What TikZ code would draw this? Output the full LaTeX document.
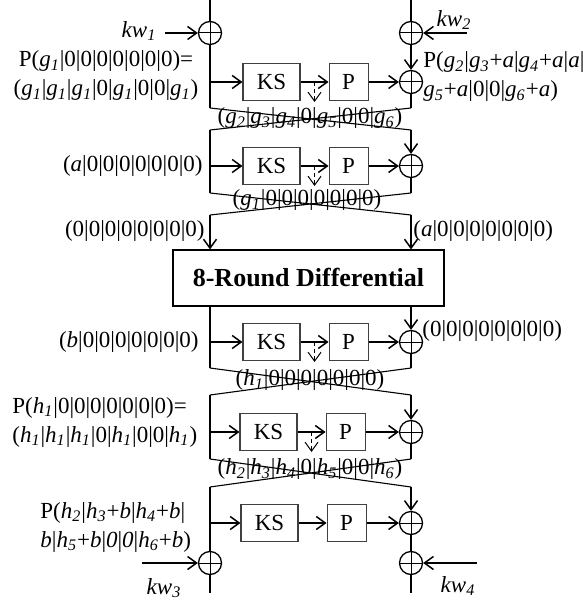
\documentclass[tikz,border=0pt]{standalone}
\usepackage{fontspec}
\setmainfont{Liberation Serif}
\usetikzlibrary{positioning,arrows.meta}
\newcommand{\sv}[2]{\textit{#1}\textsubscript{\textit{#2}}}

\begin{document}
\begin{tikzpicture}[
  x=0.5pt, y=-0.5pt,
  font=\fontsize{11.5}{14.5}\selectfont,
  node distance=14pt,
  wire/.style={line width=0.75pt},
  arr/.style={wire, -{Straight Barb[length=4.5pt,width=6.5pt]}},
  darr/.style={arr, line width=0.5pt, dash pattern=on 2pt off 1.5pt},
  xline/.style={line width=0.55pt},
  xor/.style={circle, draw, line width=0.65pt, minimum size=11.5pt, inner sep=0pt,
    path picture={\draw[line width=0.5pt]
      (path picture bounding box.north) -- (path picture bounding box.south)
      (path picture bounding box.west) -- (path picture bounding box.east);}},
  blk/.style={draw=black!75, line width=0.55pt, minimum height=18.5pt, inner sep=0pt},
  ksbox/.style={blk, minimum width=28.5pt},
  pbox/.style={blk, minimum width=19.5pt},
  val/.style={inner sep=0pt}
]
  \useasboundingbox (0,0) rectangle (582,608);

  % whitening keys on top
  \coordinate (ltop) at (210,0);
  \coordinate (rtop) at (411,0);
  \node[xor] (k1) at (210,33) {};
  \node[xor] (k2) at (411,33) {};
  \coordinate (k1in) at (165,33);
  \coordinate (k2in) at (467,33);
  \node[val] (kw1) at (139,31) {\sv{kw}{1}};
  \node[val] (kw2) at (454,20) {\sv{kw}{2}};

  % round 1
  \coordinate (l1) at (210,82);
  \node[ksbox] (s1) at (271.5,82) {KS};
  \node[pbox, right=of s1] (p1) {P};
  \node[xor] (x1) at (411,82) {};
  \node[val, align=center] (in1) at (106,76)
    {P(\sv{g}{1}|0|0|0|0|0|0|0)=\\(\sv{g}{1}|\sv{g}{1}|\sv{g}{1}|0|\sv{g}{1}|0|0|\sv{g}{1})};
  \node[val, align=left, anchor=west] (out1) at (423,77)
    {P(\sv{g}{2}|\sv{g}{3}+\textit{a}|\sv{g}{4}+\textit{a}|\textit{a}|\\\sv{g}{5}+\textit{a}|0|0|\sv{g}{6}+\textit{a})};
  \coordinate (a1) at (210,108);
  \coordinate (b1) at (411,108);
  \coordinate (c1) at (210,130);
  \coordinate (e1) at (411,130);
  \node[val] (t1) at (310,118)
    {(\sv{g}{2}|\sv{g}{3}|\sv{g}{4}|0|\sv{g}{5}|0|0|\sv{g}{6})};

  % round 2
  \coordinate (l2) at (210,166);
  \node[ksbox] (s2) at (271.5,166) {KS};
  \node[pbox, right=of s2] (p2) {P};
  \node[xor] (x2) at (411,166) {};
  \node[val, anchor=east] (in2) at (203,166) {(\textit{a}|0|0|0|0|0|0|0)};
  \coordinate (a2) at (210,193);
  \coordinate (b2) at (411,193);
  \coordinate (c2) at (210,215);
  \coordinate (e2) at (411,215);
  \node[val] (t2) at (307,200) {(\sv{g}{1}|0|0|0|0|0|0|0)};

  % 8 rounds
  \node[draw, line width=0.55pt, minimum width=135.5pt, minimum height=28pt,
        font=\fontsize{13}{15}\selectfont\bfseries] (diff) at (308.5,278)
    {8-Round Differential};
  \node[val, anchor=east] (dl) at (205,231) {(0|0|0|0|0|0|0|0)};
  \node[val, anchor=west] (dr) at (413,231) {(\textit{a}|0|0|0|0|0|0|0)};

  % round 3
  \coordinate (l3) at (210,342);
  \node[ksbox] (s3) at (271.5,342) {KS};
  \node[pbox, right=of s3] (p3) {P};
  \node[xor] (x3) at (411,342) {};
  \node[val, anchor=east] (in3) at (199,342) {(\textit{b}|0|0|0|0|0|0|0)};
  \node[val, anchor=west] (out3) at (422,331) {(0|0|0|0|0|0|0|0)};
  \coordinate (a3) at (210,368);
  \coordinate (b3) at (411,368);
  \coordinate (c3) at (210,395);
  \coordinate (e3) at (411,395);
  \node[val] (t3) at (310,380) {(\sv{h}{1}|0|0|0|0|0|0|0)};

  % round 4
  \coordinate (l4) at (210,432);
  \node[ksbox] (s4) at (268.5,432) {KS};
  \node[pbox, right=of s4] (p4) {P};
  \node[xor] (x4) at (411,432) {};
  \node[val, align=left, anchor=west] (in4) at (12,422)
    {P(\sv{h}{1}|0|0|0|0|0|0|0)=\\(\sv{h}{1}|\sv{h}{1}|\sv{h}{1}|0|\sv{h}{1}|0|0|\sv{h}{1})};
  \coordinate (a4) at (210,459);
  \coordinate (b4) at (411,459);
  \coordinate (c4) at (210,487);
  \coordinate (e4) at (411,487);
  \node[val] (t4) at (310,469)
    {(\sv{h}{2}|\sv{h}{3}|\sv{h}{4}|0|\sv{h}{5}|0|0|\sv{h}{6})};

  % round 5
  \coordinate (l5) at (210,523);
  \node[ksbox] (s5) at (269.5,523) {KS};
  \node[pbox, right=of s5] (p5) {P};
  \node[xor] (x5) at (411,523) {};
  \node[val, align=left, anchor=west] (in5) at (40,527)
    {P(\sv{h}{2}|\sv{h}{3}+\textit{b}|\sv{h}{4}+\textit{b}|\\\textit{b}|\sv{h}{5}+\textit{b}|\textit{0}|\textit{0}|\sv{h}{6}+\textit{b})};

  % whitening keys at the bottom
  \node[xor] (k3) at (210,563) {};
  \node[xor] (k4) at (411,563) {};
  \coordinate (k3in) at (142,563);
  \coordinate (k4in) at (477,563);
  \coordinate (lbot) at (210,593);
  \coordinate (rbot) at (411,593);
  \node[val] (kw3) at (164,588) {\sv{kw}{3}};
  \node[val] (kw4) at (458,586) {\sv{kw}{4}};

  % wires
  \draw[wire] (ltop) -- (k1);
  \draw[arr] (k1in) -- (k1);
  \draw[wire] (rtop) -- (k2);
  \draw[arr] (k2in) -- (k2);
  \draw[arr] (k2) -- (x1);
  \draw[wire] (k1) -- (a1);
  \draw[wire] (x1) -- (b1);
  \draw[wire] (c1) -- (a2);
  \draw[arr] (e1) -- (x2);
  \draw[wire] (x2) -- (b2);
  \draw[arr] (c2) -- (c2 |- diff.north);
  \draw[arr] (e2) -- (e2 |- diff.north);
  \draw[wire] (diff.south -| l3) -- (a3);
  \draw[arr] (diff.south -| x3) -- (x3);
  \draw[wire] (x3) -- (b3);
  \draw[wire] (c3) -- (a4);
  \draw[arr] (e3) -- (x4);
  \draw[wire] (x4) -- (b4);
  \draw[wire] (c4) -- (k3);
  \draw[wire] (k3) -- (lbot);
  \draw[arr] (k3in) -- (k3);
  \draw[arr] (e4) -- (x5);
  \draw[wire] (x5) -- (k4);
  \draw[wire] (k4) -- (rbot);
  \draw[arr] (k4in) -- (k4);

  % F-functions
  \draw[arr] (l1) -- (s1);
  \draw[arr] (s1) -- (p1) coordinate[midway] (m1);
  \draw[arr] (p1) -- (x1);
  \draw[arr] (l2) -- (s2);
  \draw[arr] (s2) -- (p2) coordinate[midway] (m2);
  \draw[arr] (p2) -- (x2);
  \draw[arr] (l3) -- (s3);
  \draw[arr] (s3) -- (p3) coordinate[midway] (m3);
  \draw[arr] (p3) -- (x3);
  \draw[arr] (l4) -- (s4);
  \draw[arr] (s4) -- (p4) coordinate[midway] (m4);
  \draw[arr] (p4) -- (x4);
  \draw[arr] (l5) -- (s5);
  \draw[arr] (s5) -- (p5);
  \draw[arr] (p5) -- (x5);

  % intermediate differences
  \coordinate (d1) at ([yshift=-10pt]m1);
  \coordinate (d2) at ([yshift=-10pt]m2);
  \coordinate (d3) at ([yshift=-10pt]m3);
  \coordinate (d4) at ([yshift=-10pt]m4);
  \draw[darr] (m1) -- (d1);
  \draw[darr] (m2) -- (d2);
  \draw[darr] (m3) -- (d3);
  \draw[darr] (m4) -- (d4);

  % swaps
  \draw[xline] (a1) -- (e1);
  \draw[xline] (b1) -- (c1);
  \draw[xline] (a2) -- (e2);
  \draw[xline] (b2) -- (c2);
  \draw[xline] (a3) -- (e3);
  \draw[xline] (b3) -- (c3);
  \draw[xline] (a4) -- (e4);
  \draw[xline] (b4) -- (c4);
\end{tikzpicture}
\end{document}
